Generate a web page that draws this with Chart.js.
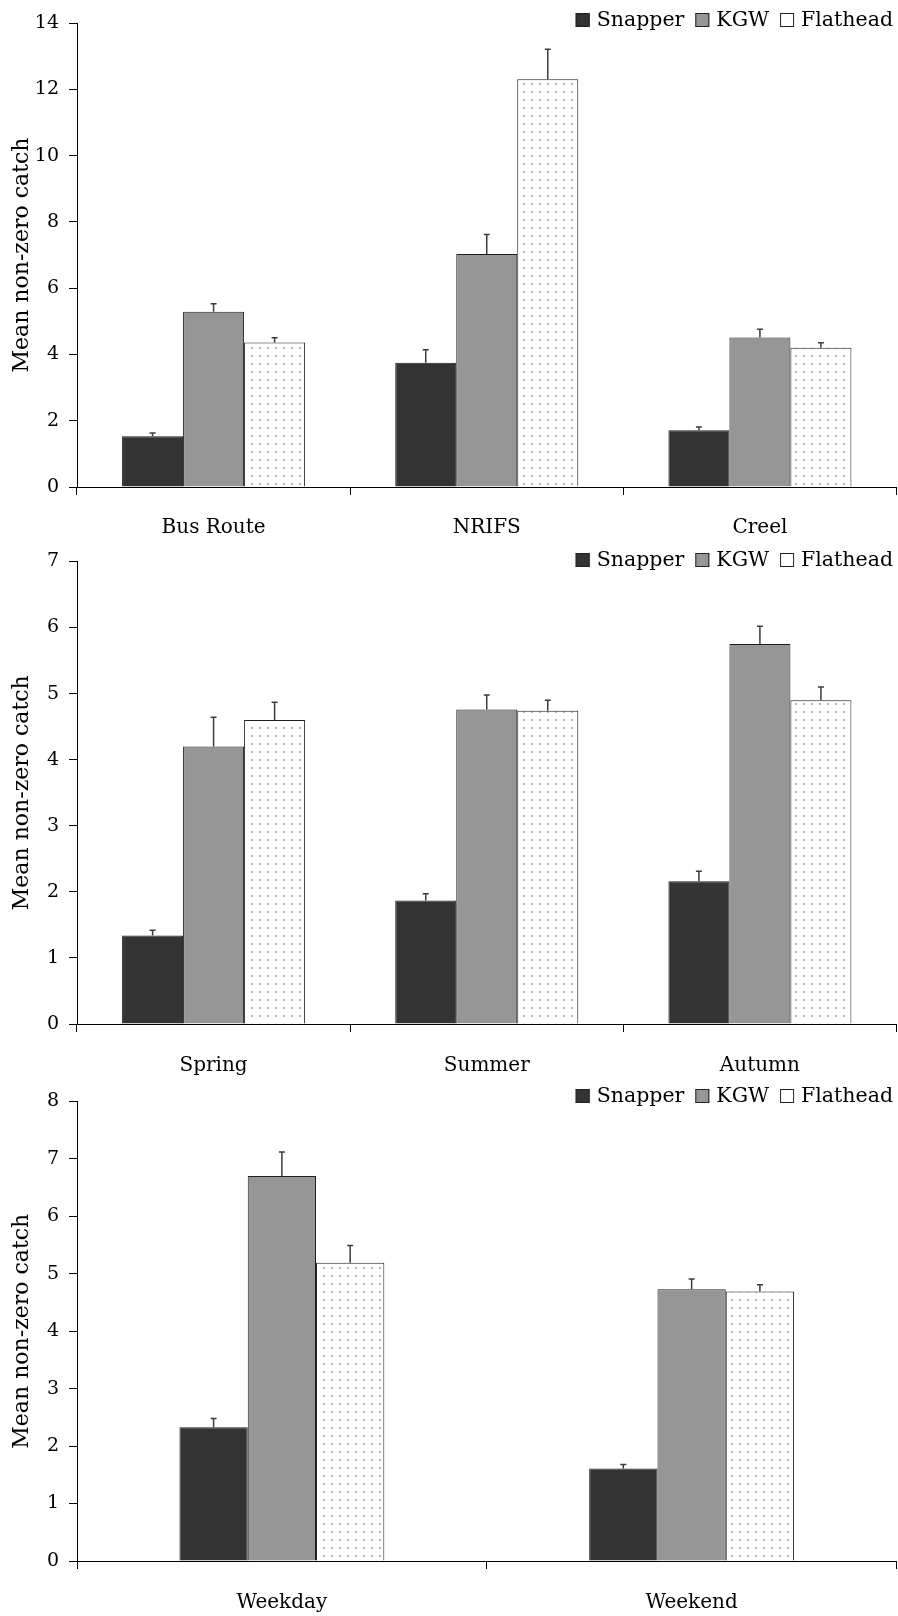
<!DOCTYPE html>
<html>
<head>
<meta charset="utf-8">
<script src="https://cdn.jsdelivr.net/npm/chart.js@4.4.1/dist/chart.umd.min.js"></script>
<style>
  html, body { margin: 0; padding: 0; background: #fff; }
  #wrap { position: relative; width: 898px; height: 1616px; }
  canvas { position: absolute; left: 0; }
</style>
</head>
<body>
<div id="wrap">
  <canvas id="methodChart" width="898" height="540" style="top:0"></canvas>
  <canvas id="seasonChart" width="898" height="540" style="top:540px"></canvas>
  <canvas id="dayChart" width="898" height="536" style="top:1080px"></canvas>
</div>
<script>
const seriesNames = ["Snapper", "KGW", "Flathead"];

// panel 1: survey method
const methodLabels = ["Bus Route", "NRIFS", "Creel"];
const methodSnapper = [1.53, 3.75, 1.71];
const methodKGW = [5.29, 7.03, 4.51];
const methodFlathead = [4.36, 12.30, 4.20];
const methodSnapperErr = [0.10, 0.39, 0.10];
const methodKGWErr = [0.24, 0.59, 0.25];
const methodFlatheadErr = [0.14, 0.91, 0.15];
const methodTicks = [0, 2, 4, 6, 8, 10, 12, 14];

// panel 2: season
const seasonLabels = ["Spring", "Summer", "Autumn"];
const seasonSnapper = [1.34, 1.87, 2.16];
const seasonKGW = [4.20, 4.76, 5.75];
const seasonFlathead = [4.60, 4.74, 4.90];
const seasonSnapperErr = [0.08, 0.10, 0.15];
const seasonKGWErr = [0.44, 0.22, 0.27];
const seasonFlatheadErr = [0.27, 0.16, 0.20];
const seasonTicks = [0, 1, 2, 3, 4, 5, 6, 7];

// panel 3: day type
const dayLabels = ["Weekday", "Weekend"];
const daySnapper = [2.33, 1.61];
const dayKGW = [6.70, 4.73];
const dayFlathead = [5.19, 4.69];
const daySnapperErr = [0.15, 0.07];
const dayKGWErr = [0.42, 0.18];
const dayFlatheadErr = [0.30, 0.12];
const dayTicks = [0, 1, 2, 3, 4, 5, 6, 7, 8];

const FONT = "DejaVu Serif";

// dotted fill for Flathead bars
function dotPattern() {
  const c = document.createElement("canvas");
  c.width = 8; c.height = 8;
  const g = c.getContext("2d");
  g.fillStyle = "#fff";
  g.fillRect(0, 0, 8, 8);
  g.fillStyle = "#b4b4b4";
  g.fillRect(3, 3, 2, 2);
  return g.createPattern(c, "repeat");
}
const dots = dotPattern();

const errorBars = {
  id: "errorBars",
  afterDatasetsDraw(chart) {
    const { ctx } = chart;
    const y = chart.scales.y;
    ctx.save();
    ctx.strokeStyle = "#3c3c3c";
    ctx.lineWidth = 1.5;
    chart.data.datasets.forEach((ds, i) => {
      chart.getDatasetMeta(i).data.forEach((bar, j) => {
        const top = y.getPixelForValue(ds.data[j] + ds.errors[j]);
        ctx.beginPath();
        ctx.moveTo(bar.x, bar.y);
        ctx.lineTo(bar.x, top);
        ctx.moveTo(bar.x - 3, top);
        ctx.lineTo(bar.x + 3, top);
        ctx.stroke();
      });
    });
    ctx.restore();
  }
};

// legend drawn top right, boxes + names
const boxLegend = {
  id: "boxLegend",
  afterDraw(chart, args, opts) {
    const { ctx } = chart;
    ctx.save();
    ctx.font = "20.5px '" + FONT + "'";
    ctx.textBaseline = "middle";
    const box = 14, gap = 7, itemGap = 11;
    const items = chart.data.datasets.map(ds => ({ ds, w: ctx.measureText(ds.label).width }));
    let total = items.reduce((s, it) => s + box + gap + it.w, 0) + itemGap * (items.length - 1);
    let x = opts.right - total;
    const cy = opts.y;
    items.forEach(({ ds, w }) => {
      ctx.fillStyle = ds.legendFill;
      ctx.fillRect(x, cy - box / 2, box, box);
      ctx.strokeStyle = "#222";
      ctx.lineWidth = 1;
      ctx.strokeRect(x + 0.5, cy - box / 2 + 0.5, box - 1, box - 1);
      ctx.fillStyle = "#000";
      ctx.fillText(ds.label, x + box + gap, cy + 1);
      x += box + gap + w + itemGap;
    });
    ctx.restore();
  }
};

function makeChart(id, labels, values, errors, ticks, opt) {
  const fills = ["#333333", "#969696", dots];
  const legendFills = ["#333333", "#969696", "#ffffff"];
  const datasets = seriesNames.map((name, i) => ({
    label: name,
    data: values[i],
    errors: errors[i],
    backgroundColor: fills[i],
    legendFill: legendFills[i],
    borderColor: "#1e1e1e",
    borderWidth: 1,
    categoryPercentage: opt.catPct,
    barPercentage: 1
  }));
  return new Chart(document.getElementById(id), {
    type: "bar",
    data: { labels, datasets },
    plugins: [errorBars, boxLegend],
    options: {
      responsive: false,
      animation: false,
      devicePixelRatio: 1,
      layout: { padding: { top: opt.top, right: 1.5, left: 0, bottom: 0 } },
      plugins: {
        legend: { display: false },
        tooltip: { enabled: false },
        boxLegend: { right: 893, y: opt.legendY }
      },
      scales: {
        x: {
          grid: { offset: true, drawOnChartArea: false, tickLength: 8, color: "#000" },
          border: { color: "#000", width: 1 },
          ticks: { color: "#000", font: { family: FONT, size: 20 }, padding: opt.labelPad },
          afterFit(s) { s.height = opt.xHeight; }
        },
        y: {
          min: 0,
          max: ticks[ticks.length - 1],
          afterBuildTicks(s) { s.ticks = ticks.map(v => ({ value: v })); },
          grid: { drawOnChartArea: false, tickLength: 8, color: "#000" },
          border: { color: "#000", width: 1 },
          ticks: { color: "#000", font: { family: FONT, size: 19 }, padding: 10 },
          title: {
            display: true,
            text: "Mean non-zero catch",
            color: "#000",
            font: { family: FONT, size: 22 },
            padding: { top: 9, bottom: 0 }
          },
          afterFit(s) { s.width = 77; }
        }
      }
    }
  });
}

makeChart("methodChart", methodLabels,
  [methodSnapper, methodKGW, methodFlathead],
  [methodSnapperErr, methodKGWErr, methodFlatheadErr],
  methodTicks, { catPct: 0.67, top: 23, xHeight: 53, labelPad: 21, legendY: 20 });

makeChart("seasonChart", seasonLabels,
  [seasonSnapper, seasonKGW, seasonFlathead],
  [seasonSnapperErr, seasonKGWErr, seasonFlatheadErr],
  seasonTicks, { catPct: 0.67, top: 21, xHeight: 56, labelPad: 22, legendY: 20 });

makeChart("dayChart", dayLabels,
  [daySnapper, dayKGW, dayFlathead],
  [daySnapperErr, dayKGWErr, dayFlatheadErr],
  dayTicks, { catPct: 0.5, top: 18, xHeight: 55, labelPad: 22, legendY: 16 });
</script>
</body>
</html>
